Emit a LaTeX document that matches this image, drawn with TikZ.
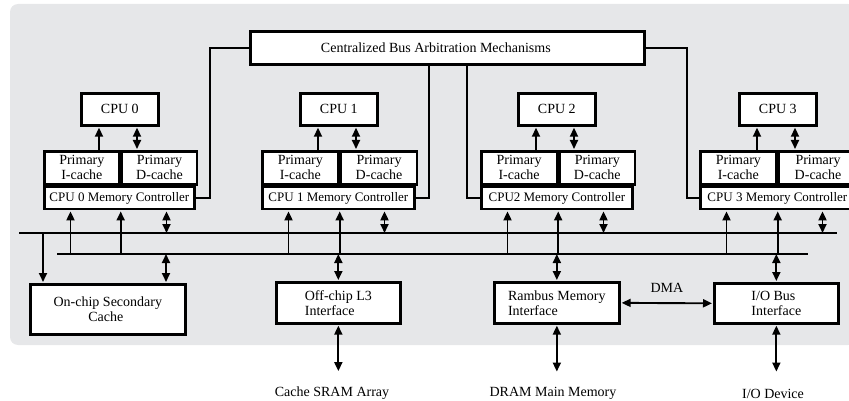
\documentclass[tikz,border=0pt]{standalone}
\usepackage{fontspec}
\setmainfont{Liberation Serif}
\usetikzlibrary{arrows.meta}
\definecolor{panel}{HTML}{E6E7E9}
\begin{document}
\begin{tikzpicture}[x=1pt,y=-1pt,
  >={Triangle[length=9pt,width=8pt]},
  box/.style={draw=black, line width=2.7pt, fill=white, inner sep=0pt,
    align=center, font=\fontsize{14}{15}\selectfont},
  lbox/.style={box, align=left},
  ctrl/.style={box, font=\fontsize{13}{14}\selectfont},
  conn/.style={line width=1.9pt},
  bus/.style={line width=2.3pt},
  lbl/.style={inner sep=2pt, font=\fontsize{14}{15}\selectfont}]

\useasboundingbox (0,0) rectangle (849,401);
% chip outline
\fill[panel, rounded corners=8pt] (10,4) rectangle (856,345);

% arbitration unit
\node[box, anchor=north west, minimum width=394pt, minimum height=33pt] (arb) at (249,30)
  {Centralized Bus Arbitration Mechanisms\hspace*{23pt}};

% four processor blocks: CPU, split primary caches, memory controller
\foreach \i/\L/\C/\H/\R/\mc in {
    0/43/80/75/75/{CPU 0 Memory Controller},
    1/261/299/76/76/{CPU 1 Memory Controller},
    2/480/517/75.5/75.5/{CPU2 Memory Controller},
    3/699/738/76/78/{CPU 3 Memory Controller}} {
  \node[box, anchor=north west, minimum width=77pt, minimum height=32pt] (cpu\i) at (\C,92) {CPU \i};
  \node[box, anchor=north west, minimum width=\H pt, minimum height=33pt] (ic\i) at (\L,150) {Primary\\I-cache};
  \node[box, anchor=north west, minimum width=\R pt, minimum height=33pt] (dc\i) at (ic\i.north east) {Primary\\D-cache};
  \node[ctrl, anchor=north west, minimum width=\H pt+\R pt, minimum height=22pt] (mc\i) at (ic\i.south west) {\mc};
  % CPU <-> caches
  \coordinate (ia\i) at ([xshift=19pt]cpu\i.south west);
  \coordinate (da\i) at ([xshift=57pt]cpu\i.south west);
  \draw[conn,->,shorten >=1pt] (ia\i |- ic\i.north) -- (ia\i);
  \draw[conn,<->,shorten >=1pt,shorten <=1pt] (da\i) -- (da\i |- dc\i.north);
}

% system buses
\coordinate (ba-w) at (19,233);
\coordinate (ba-e) at (837,233);
\coordinate (bb-w) at (57,254);
\coordinate (bb-e) at (808,254);
\draw[bus] (ba-w) -- (ba-e);
\draw[bus] (bb-w) -- (bb-e);

% memory controllers <-> buses
\foreach \i in {0,1,2,3} {
  \coordinate (qa\i) at ([xshift=27.5pt]mc\i.south west);
  \coordinate (qb\i) at (ic\i.south east |- mc\i.south);
  \coordinate (qc\i) at ([xshift=123.5pt]mc\i.south west);
  \draw[conn,->,shorten >=1pt] (qa\i |- bb-w) -- (qa\i);
  \draw[conn,->,shorten >=1pt] (qb\i |- bb-w) -- (qb\i);
  \draw[conn,<->,shorten <=1pt] (qc\i) -- (qc\i |- ba-w);
}

% arbitration wiring
\draw[conn] (arb.west) -| ([xshift=14pt]mc0.east) -- (mc0.east);
\draw[conn] (mc1.east) -- ([xshift=13pt]mc1.east) coordinate (k1) -- (k1 |- arb.south);
\draw[conn] (mc2.west) -- ([xshift=-13pt]mc2.west) coordinate (k2) -- (k2 |- arb.south);
\draw[conn] (arb.east) -| ([xshift=-12pt]mc3.west) -- (mc3.west);

% interfaces
\node[box, anchor=north west, minimum width=155pt, minimum height=50pt] (sec) at (29,283) {On-chip Secondary\\Cache\hspace*{4pt}};
\node[lbox, anchor=north west, minimum width=124pt, minimum height=41pt] (l3) at (275,281) {Off-chip L3\\Interface};
\node[lbox, anchor=north west, minimum width=125pt, minimum height=41pt] (ram) at (493,281) {Rambus Memory\\Interface};
\node[lbox, anchor=north west, minimum width=124pt, minimum height=40pt] (iob) at (713,282) {I/O Bus\\Interface};

\coordinate (s1) at ([xshift=14pt]sec.north west);
\coordinate (s2) at ([xshift=137pt]sec.north west);
\draw[conn,->,shorten >=1pt] (s1 |- ba-w) -- (s1);
\draw[conn,<->,shorten >=1pt] (s2 |- bb-w) -- (s2);
\draw[conn,<->,shorten >=1pt] (l3.north |- bb-w) -- (l3.north);
\draw[conn,<->,shorten >=1pt] (ram.north |- bb-w) -- (ram.north);
\draw[conn,<->,shorten >=1pt] (iob.north |- bb-w) -- (iob.north);

\draw[conn,<->,shorten >=1pt,shorten <=1pt] (ram.east) -- node[lbl, midway, yshift=15pt] (dma) {DMA} (iob.west);

% off-chip devices
\node[lbl, anchor=base] (sram) at (332,396) {Cache SRAM Array};
\node[lbl, anchor=base] (dram) at (553,396) {DRAM Main Memory};
\node[lbl, anchor=base] (iodev) at (773,398) {I/O Device};
\draw[conn,<->,shorten <=1pt,shorten >=13pt] (l3.south) -- (l3.south |- sram.north);
\draw[conn,<->,shorten <=1pt,shorten >=13pt] (ram.south) -- (ram.south |- dram.north);
\draw[conn,<->,shorten <=1pt,shorten >=15pt] (iob.south) -- (iob.south |- iodev.north);

\end{tikzpicture}
\end{document}
